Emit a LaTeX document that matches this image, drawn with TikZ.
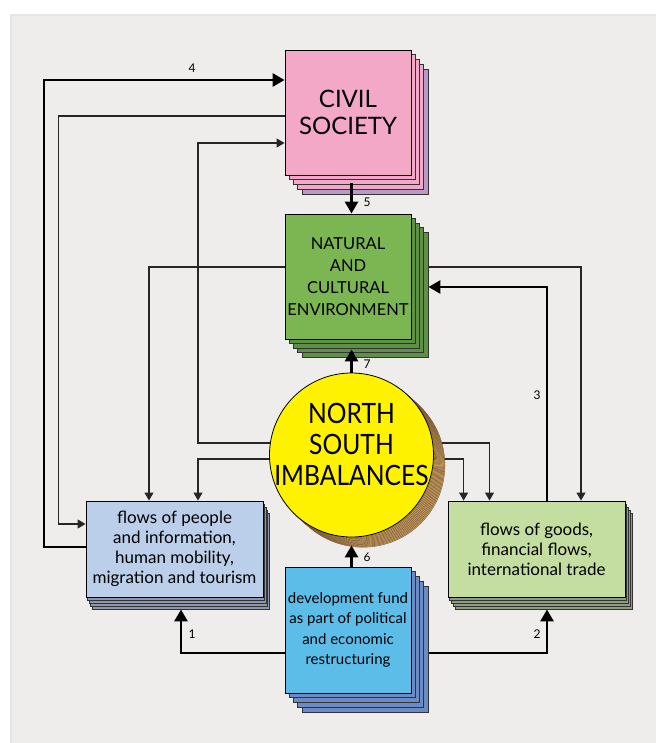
\documentclass[tikz,border=0pt]{standalone}
\usepackage{fontspec}
\setmainfont{Lato}
\newfontfamily\capsfont[FakeStretch=0.88]{Lato}
\usetikzlibrary{arrows.meta,calc}
\definecolor{panel}{HTML}{EEEDEB}
\definecolor{pinkF}{HTML}{F3A8C8}
\definecolor{pinkB}{HTML}{B79BC6}
\definecolor{greenF}{HTML}{7CB652}
\definecolor{greenB}{HTML}{5E9146}
\definecolor{blueF}{HTML}{BBCFEA}
\definecolor{blueB}{HTML}{8D97AE}
\definecolor{goodsF}{HTML}{C4DDA0}
\definecolor{goodsB}{HTML}{8E9C82}
\definecolor{devF}{HTML}{5CBDE9}
\definecolor{devB}{HTML}{6A8BC3}
\definecolor{coin}{HTML}{D2A86A}
\definecolor{coinline}{HTML}{6A4A2A}
\definecolor{sun}{HTML}{FFF200}
\pgfdeclarelayer{bgzero}\pgfdeclarelayer{bgone}\pgfsetlayers{bgzero,bgone,main}
\begin{document}
\begin{tikzpicture}[x=1pt,y=-1pt,
 boxstyle/.style={draw=black, line width=0.9pt, inner sep=0pt, align=center, text=black},
 layerstyle/.style={draw=black!80, line width=0.7pt},
 bigarrow/.style={line width=2.8pt, -{Triangle[length=12pt,width=13pt]}},
 smallarrow/.style={line width=1.1pt, draw=black!85, -{Triangle[length=8pt,width=9pt]}},
 numlabel/.style={font=\fontsize{12}{14}\selectfont, inner sep=0pt, text=black},
]
\useasboundingbox (0,0) rectangle (656,743);
\begin{pgfonlayer}{bgzero}
\fill[white] (0,0) rectangle (656,743);
\fill[black!10] (10,14) rectangle (656,743);
\fill[panel] (12,16) rectangle (656,743);
\end{pgfonlayer}

% stacks
\filldraw[layerstyle,fill=pinkB] (302,69) rectangle ++(126,125);
\foreach \i in {3,2,1} \filldraw[layerstyle,fill=pinkF] (285+\i*4.25,50+\i*4.75) rectangle ++(126,125);
\foreach \i in {4,3,2,1} \filldraw[layerstyle,fill=greenB] (285+\i*4.25,214+\i*4.5) rectangle ++(126,125);
\foreach \i in {4,3,2,1} \filldraw[layerstyle,fill=devB] (285+\i*4.25,567+\i*4.75) rectangle ++(126,126);
\foreach \i in {4,3,2,1} \filldraw[layerstyle,fill=blueB] (86+\i*1.5,501+\i*3) rectangle ++(177,96);
\foreach \i in {4,3,2,1} \filldraw[layerstyle,fill=goodsB] (448+\i*1.75,501+\i*3) rectangle ++(177,96);
\foreach \i in {12,...,1} \filldraw[fill=coin, draw=coinline, line width=0.35pt] (351.5+\i*0.95,455+\i*0.85) circle (82pt);

% nodes
\node[boxstyle, fill=pinkF, minimum width=126pt, minimum height=125pt, font=\fontsize{24}{27}\selectfont] (civ) at (348,112.5) {CIVIL\\SOCIETY};
\node[boxstyle, fill=greenF, minimum width=126pt, minimum height=125pt, font=\fontsize{16.5}{22}\selectfont] (green) at (348,276.5) {NATURAL\\AND\\CULTURAL\\ENVIRONMENT};
\node[boxstyle, fill=blueF, minimum width=177pt, minimum height=96pt, font=\fontsize{17}{20}\selectfont] (people) at (174.5,549) {flows of people\\and information,\\human mobility,\\migration and tourism};
\node[boxstyle, fill=goodsF, minimum width=177pt, minimum height=96pt, font=\fontsize{17}{20}\selectfont] (goods) at (536.5,549) {flows of goods,\\financial flows,\\international trade};
\node[boxstyle, fill=devF, minimum width=126pt, minimum height=126pt, font=\fontsize{15}{20.5}\selectfont] (dev) at (348,630) {development fund\\as part of political\\and economic\\restructuring};
\node[circle, draw=black, line width=0.8pt, fill=sun, minimum size=164pt, inner sep=0pt] (circ) at (351.5,455) {};
\node[inner sep=0pt, align=center, text=black, font=\capsfont\fontsize{28}{31}\selectfont] (circtext) at (351.5,444) {NORTH\\SOUTH\\IMBALANCES};

% connectors underneath
\begin{pgfonlayer}{bgone}
\coordinate (k4) at (44,80);
\draw[bigarrow] (people.west |- 0,547) -| (k4) -- (k4 -| civ.west);
\coordinate (k5) at (58.5,116);
\draw[smallarrow] (k5 -| civ.west) -- (k5) |- (people.west |- 0,524);
\coordinate (k6) at (198,443);
\draw[smallarrow] (circ.center |- k6) -- (k6) |- (civ.west |- 0,143);
\coordinate (k7) at (198,459);
\draw[smallarrow] (circ.center |- k7) -- (k7) -- (k7 |- people.north);
\coordinate (k8) at (149,267);
\draw[smallarrow] (green.west |- k8) -- (k8) -- (k8 |- people.north);
\coordinate (k9) at (581,267);
\draw[smallarrow] (green.east |- k9) -- (k9) -- (k9 |- goods.north);
\coordinate (k10) at (489.5,443);
\draw[smallarrow] (circ.center |- k10) -- (k10) -- (k10 |- goods.north);
\coordinate (k11) at (463.6,459);
\draw[smallarrow] (circ.center |- k11) -- (k11) -- (k11 |- goods.north);
\coordinate (k3) at (547,287);
\draw[bigarrow] (goods.north -| k3) -- (k3) -- ($(k3 -| green.east)+(17,0)$);
\coordinate (k1) at (181,653);
\draw[bigarrow] (dev.west |- k1) -- (k1) -- ($(k1 |- people.south)+(0,12)$);
\coordinate (k2) at (547,653);
\draw[bigarrow] (dev.east |- k2) -- (k2) -- ($(k2 |- goods.south)+(0,12)$);
\end{pgfonlayer}

% arrows on top
\draw[bigarrow] ($(civ.south -| circ.north)+(0,8)$) -- (green.north -| circ.north);
\draw[bigarrow] (circ.north) -- ($(green.south -| circ.north)+(0,10)$);
\draw[bigarrow] (dev.north -| circ.south) -- ($(circ.south)+(0,8)$);

% labels
\node[numlabel] (n4) at (192,68) {4};
\node[numlabel] (n1) at (192,634) {1};
\node[numlabel] (n2) at (537,634) {2};
\node[numlabel] (n3) at (537,395) {3};
\node[numlabel] (n5) at (367,202) {5};
\node[numlabel] (n6) at (367,557) {6};
\node[numlabel] (n7) at (367,364) {7};
\end{tikzpicture}
\end{document}
